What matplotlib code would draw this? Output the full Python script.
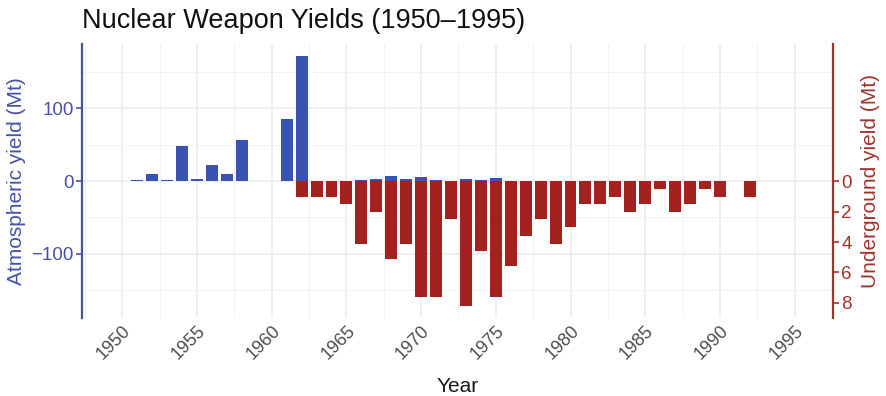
import matplotlib
matplotlib.use("Agg")
import matplotlib.pyplot as plt
from matplotlib.ticker import MultipleLocator, FixedLocator
from matplotlib.transforms import blended_transform_factory

plt.rcParams['font.family'] = ['Liberation Sans', 'DejaVu Sans']

# Atmospheric test yields (Mt), left axis
atm_years = [1951, 1952, 1953, 1954, 1955, 1956, 1957, 1958, 1961, 1962,
             1966, 1967, 1968, 1969, 1970, 1971, 1973, 1974, 1975]
atm_yield = [1, 10, 1, 48, 3, 22, 9, 57, 86, 172,
             2, 3, 7, 3, 5.5, 2, 3, 1, 4.5]

# Underground test yields (Mt), right axis (drawn downward)
ug_years = [1962, 1963, 1964, 1965, 1966, 1967, 1968, 1969, 1970, 1971,
            1972, 1973, 1974, 1975, 1976, 1977, 1978, 1979, 1980, 1981,
            1982, 1983, 1984, 1985, 1986, 1987, 1988, 1989, 1990, 1992]
ug_yield = [1.0, 1.0, 1.0, 1.5, 4.1, 2.0, 5.1, 4.1, 7.6, 7.6,
            2.5, 8.2, 4.6, 7.6, 5.6, 3.6, 2.5, 4.1, 3.0, 1.5,
            1.5, 1.0, 2.0, 1.5, 0.5, 2.0, 1.5, 0.5, 1.0, 1.0]

year_ticks = list(range(1950, 2000, 5))
atm_ticks = [-100, 0, 100]
ug_ticks = [0, 2, 4, 6, 8]

BLUE = '#3953B3'
BLUE_AX = '#4752A6'
RED = '#A3221F'
RED_AX = '#A2332D'
GRID = '#EBEBEB'

W, H = 887, 396
fig = plt.figure(figsize=(W / 100, H / 100), dpi=100)
L, R, T, B = 82, 833, 44, 318
ax = fig.add_axes([L / W, 1 - B / H, (R - L) / W, (B - T) / H])
ax2 = ax.twinx()

ax.bar(atm_years, atm_yield, width=0.8, color=BLUE, zorder=3)
ax2.bar(ug_years, ug_yield, width=0.8, color=RED, zorder=3)

ax.set_xlim(1947.3, 1997.57)
ax.set_ylim(-188.6, 188.6)
ax2.set_ylim(9.0, -9.06)

# grid
ax.set_axisbelow(True)
ax.xaxis.set_major_locator(FixedLocator(year_ticks))
ax.xaxis.set_minor_locator(MultipleLocator(2.5))
ax.yaxis.set_major_locator(FixedLocator(atm_ticks))
ax.yaxis.set_minor_locator(FixedLocator([-150, -50, 50, 150]))
ax.grid(which='major', color=GRID, linewidth=1.1)
ax.grid(which='minor', color='#F2F2F2', linewidth=0.7)
ax.tick_params(which='minor', length=0)

ax2.yaxis.set_major_locator(FixedLocator(ug_ticks))

for a in (ax, ax2):
    a.spines['top'].set_visible(False)
    a.spines['bottom'].set_visible(False)
    a.set_facecolor('none')
ax.spines['right'].set_visible(False)
ax2.spines['left'].set_visible(False)
ax.spines['left'].set_color(BLUE_AX)
ax.spines['left'].set_linewidth(1.6)
ax2.spines['right'].set_color(RED_AX)
ax2.spines['right'].set_linewidth(1.6)

ax.tick_params(axis='x', which='major', length=0, pad=3, labelsize=13,
               labelcolor='#4D4D4D')
for lbl in ax.get_xticklabels():
    lbl.set_rotation(45)
    lbl.set_ha('right')
    lbl.set_rotation_mode('anchor')
ax.tick_params(axis='y', which='major', length=4, width=1.2, color=BLUE_AX,
               labelcolor=BLUE_AX, labelsize=13.5, pad=2)
ax2.tick_params(axis='y', which='major', length=4, width=1.2, color=RED_AX,
                labelcolor=RED_AX, labelsize=13.5, pad=2)

fig_x_ax_y = blended_transform_factory(fig.transFigure, ax.transAxes)

ax.set_xlabel('Year', fontsize=15, color='#1A1A1A')
ax.xaxis.set_label_coords(0.5, -(392 - B) / (B - T), transform=ax.transAxes)
ax.xaxis.label.set_va('baseline')
ax.set_ylabel('Atmospheric yield (Mt)', fontsize=15, color=BLUE_AX)
ax.yaxis.set_label_coords(17 / W, 0.5, transform=fig_x_ax_y)
ax.yaxis.label.set_va('center')
ax2.set_ylabel('Underground yield (Mt)', fontsize=15, color=RED_AX,
               rotation=90)
ax2.yaxis.set_label_coords(871 / W, 0.5, transform=fig_x_ax_y)
ax2.yaxis.label.set_va('center')

fig.text(L / W, 1 - 28 / H, 'Nuclear Weapon Yields (1950\u20131995)',
         fontsize=19.5, color='#111111', ha='left', va='baseline')

fig.savefig('out.png', dpi=100, facecolor='white')
